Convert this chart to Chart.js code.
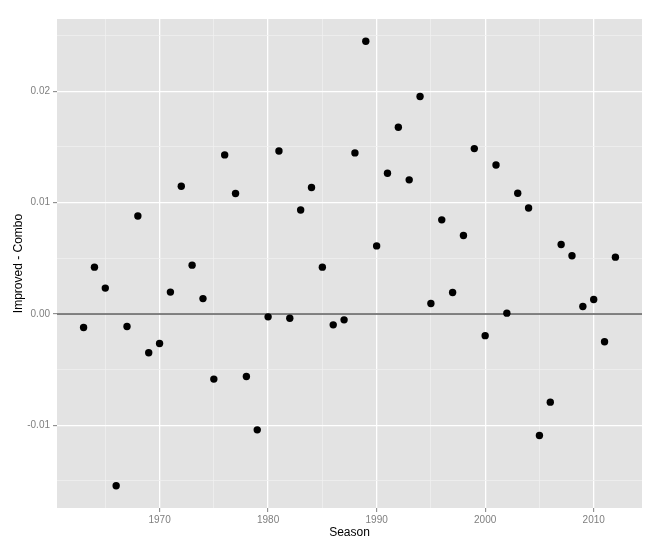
<!DOCTYPE html>
<html>
<head>
<meta charset="utf-8">
<script src="https://cdn.jsdelivr.net/npm/chart.js@4"></script>
<style>
  body { margin: 0; background: #fff; }
  #wrap { width: 661px; height: 550px; }
</style>
</head>
<body>
<div id="wrap"><canvas id="myChart"></canvas></div>
<script>
var seasons = [1963,1964,1965,1966,1967,1968,1969,1970,1971,1972,1973,1974,1975,1976,1977,1978,1979,1980,1981,1982,1983,1984,1985,1986,1987,1988,1989,1990,1991,1992,1993,1994,1995,1996,1997,1998,1999,2000,2001,2002,2003,2004,2005,2006,2007,2008,2009,2010,2011,2012];
var diffs = [-0.00122,0.00420,0.00232,-0.01543,-0.00113,0.00880,-0.00349,-0.00266,0.00196,0.01147,
             0.00438,0.00138,-0.00585,0.01428,0.01081,-0.00562,-0.01041,-0.00026,0.01463,-0.00038,
             0.00934,0.01135,0.00420,-0.00098,-0.00053,0.01446,0.02449,0.00611,0.01264,0.01677,
             0.01204,0.01952,0.00094,0.00845,0.00192,0.00704,0.01485,-0.00195,0.01338,0.00007,
             0.01084,0.00952,-0.01092,-0.00792,0.00623,0.00522,0.00067,0.00130,-0.00250,0.00510];
var xTicks = [1965,1970,1975,1980,1985,1990,1995,2000,2005,2010];
var yTicks = [-0.015,-0.01,-0.005,0,0.005,0.01,0.015,0.02,0.025];
var xLabels = [1970,1980,1990,2000,2010];
var yLabels = [-0.01,0,0.01,0.02];

var points = [];
for (var i = 0; i < seasons.length; i++) {
  points.push({x: seasons[i], y: diffs[i]});
}

function isMajor(v, list) {
  for (var j = 0; j < list.length; j++) {
    if (Math.abs(v - list[j]) < 1e-9) return true;
  }
  return false;
}

// ggplot style range: data range plus 5% each side
var xMin = Math.min.apply(null, seasons), xMax = Math.max.apply(null, seasons);
var yMin = Math.min.apply(null, diffs), yMax = Math.max.apply(null, diffs);
var xPad = (xMax - xMin) * 0.05, yPad = (yMax - yMin) * 0.05;

var panelBg = {
  id: 'panelBg',
  beforeDraw: function(chart) {
    var a = chart.chartArea, c = chart.ctx;
    c.save();
    c.fillStyle = '#E3E3E3';
    c.fillRect(a.left, a.top, a.right - a.left, a.bottom - a.top);
    c.restore();
  },
  beforeDatasetsDraw: function(chart) {
    // reference line at zero
    var a = chart.chartArea, c = chart.ctx;
    var y0 = chart.scales.y.getPixelForValue(0);
    c.save();
    c.strokeStyle = '#5A5A5A';
    c.lineWidth = 1.6;
    c.beginPath();
    c.moveTo(a.left, y0);
    c.lineTo(a.right, y0);
    c.stroke();
    c.restore();
  }
};

var tickFont = {family: "'Liberation Sans', Arial, sans-serif", size: 10};
var titleFont = {family: "'Liberation Sans', Arial, sans-serif", size: 12};

new Chart("myChart", {
  type: "scatter",
  data: {
    datasets: [{
      data: points,
      backgroundColor: "#000",
      borderColor: "#000",
      pointRadius: 3.7,
      pointHoverRadius: 3.7,
      borderWidth: 0
    }]
  },
  plugins: [panelBg],
  options: {
    responsive: true,
    maintainAspectRatio: false,
    animation: false,
    layout: {padding: {top: 19, right: 19, left: 0, bottom: 0}},
    plugins: {legend: {display: false}, tooltip: {enabled: false}},
    scales: {
      x: {
        type: "linear",
        min: xMin - xPad,
        max: xMax + xPad,
        afterBuildTicks: function(s) { s.ticks = xTicks.map(function(v){ return {value: v}; }); },
        afterFit: function(s) { s.height = 42; },
        border: {display: false},
        grid: {
          color: function(ctx) { return isMajor(ctx.tick.value, xLabels) ? '#FFFFFF' : '#F0F0F0'; },
          lineWidth: function(ctx) { return isMajor(ctx.tick.value, xLabels) ? 1.3 : 0.8; },
          tickColor: function(ctx) { return isMajor(ctx.tick.value, xLabels) ? '#7F7F7F' : 'rgba(0,0,0,0)'; },
          tickLength: 4,
          tickWidth: 1
        },
        ticks: {
          autoSkip: false,
          maxRotation: 0,
          padding: 2,
          color: '#7F7F7F',
          font: tickFont,
          callback: function(v) { return isMajor(v, xLabels) ? String(v) : ''; }
        },
        title: {display: true, text: "Season", color: '#000', font: titleFont, padding: {top: 1, bottom: 10}}
      },
      y: {
        type: "linear",
        min: yMin - yPad,
        max: yMax + yPad,
        afterBuildTicks: function(s) { s.ticks = yTicks.map(function(v){ return {value: v}; }); },
        afterFit: function(s) { s.width = 57; },
        border: {display: false},
        grid: {
          color: function(ctx) { return isMajor(ctx.tick.value, yLabels) ? '#FFFFFF' : '#F0F0F0'; },
          lineWidth: function(ctx) { return isMajor(ctx.tick.value, yLabels) ? 1.3 : 0.8; },
          tickColor: function(ctx) { return isMajor(ctx.tick.value, yLabels) ? '#7F7F7F' : 'rgba(0,0,0,0)'; },
          tickLength: 4,
          tickWidth: 1
        },
        ticks: {
          autoSkip: false,
          padding: 3,
          color: '#7F7F7F',
          font: tickFont,
          callback: function(v) { return isMajor(v, yLabels) ? v.toFixed(2) : ''; }
        },
        title: {display: true, text: "Improved - Combo", color: '#000', font: titleFont, padding: {top: 11, bottom: 0}}
      }
    }
  }
});
</script>
</body>
</html>
